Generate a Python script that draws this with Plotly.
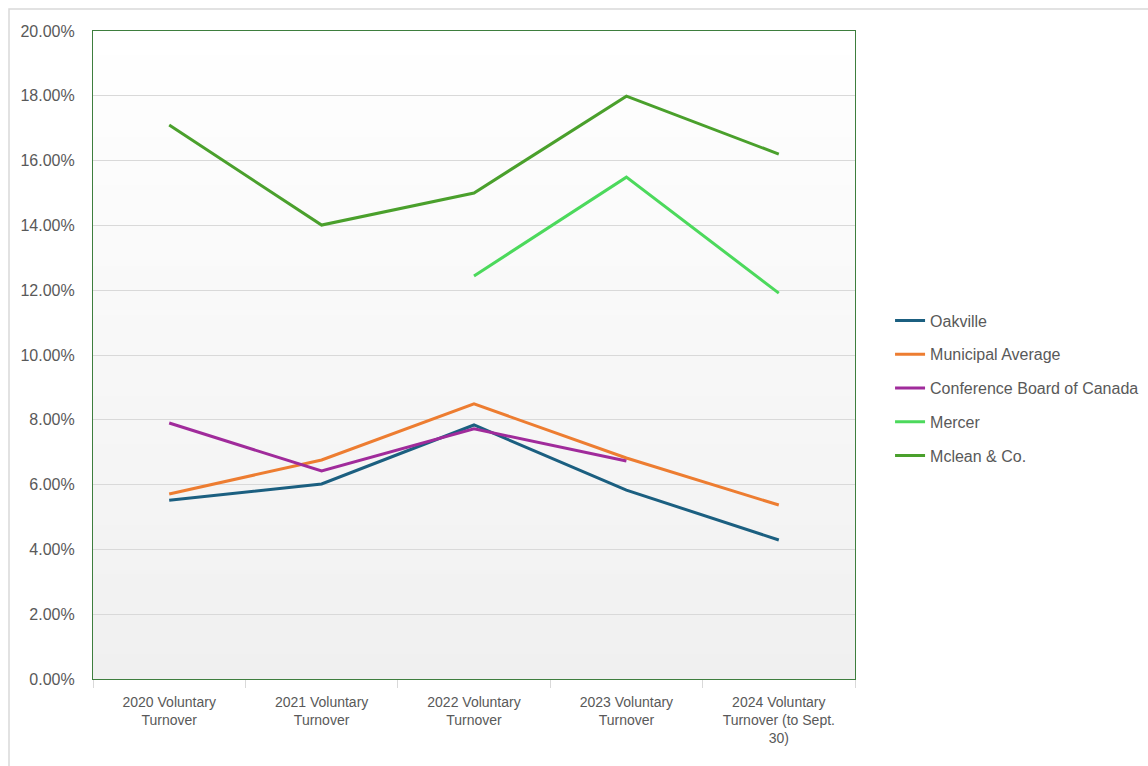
import plotly.graph_objects as go

categories = ["2020 Voluntary<br>Turnover", "2021 Voluntary<br>Turnover", "2022 Voluntary<br>Turnover",
              "2023 Voluntary<br>Turnover", "2024 Voluntary<br>Turnover (to Sept.<br>30)"]
oakville = [5.52, 6.02, 7.84, 5.83, 4.29]
municipal = [5.71, 6.76, 8.49, 6.82, 5.37]
conference = [7.90, 6.42, 7.72, 6.73, None]
mercer = [None, None, 12.44, 15.49, 11.91]
mclean = [17.10, 14.01, 15.00, 17.99, 16.20]
y_ticks = [0, 2, 4, 6, 8, 10, 12, 14, 16, 18, 20]
y_tick_labels = [f"{v:.2f}%" for v in y_ticks]

series = [
    ("Oakville", oakville, "#1b5f80"),
    ("Municipal Average", municipal, "#ed7d31"),
    ("Conference Board of Canada", conference, "#a02b9b"),
    ("Mercer", mercer, "#4cd95c"),
    ("Mclean & Co.", mclean, "#4aa02c"),
]

xs = list(range(len(categories)))
x_lo, x_hi = -0.5, len(categories) - 0.5
y_lo, y_hi = 0, 20

fig = go.Figure()
for name, vals, col in series:
    fig.add_trace(go.Scatter(x=xs, y=vals, name=name, mode="lines", legendgroup=name,
                             line=dict(color=col, width=3), connectgaps=False))

# vertical gradient background of the plot area (white top -> light grey bottom), below gridlines
shapes = []
n_steps = 80
top_c, bot_c = 255, 240
for i in range(n_steps):
    f0, f1 = i / n_steps, (i + 1) / n_steps
    g = round(bot_c + (top_c - bot_c) * (f0 + f1) / 2)
    shapes.append(dict(type="rect", xref="x domain", yref="y domain", x0=0, x1=1, y0=f0, y1=f1 + 0.002,
                       fillcolor=f"rgb({g},{g},{g})", line=dict(width=0), layer="below"))
# outer chart border
shapes.append(dict(type="rect", xref="paper", yref="paper",
                   x0=-84 / 762, x1=1.6, y0=-0.3, y1=1 + 22 / 648,
                   line=dict(color="#d9d9d9", width=1.5), layer="below"))

font_main = "Liberation Sans, Arial, sans-serif"

fig.update_layout(
    width=1148, height=766,
    margin=dict(l=93, r=293, t=31, b=87, autoexpand=False),
    paper_bgcolor="white", plot_bgcolor="rgba(0,0,0,0)",
    font=dict(family=font_main, size=16, color="#595959"),
    showlegend=True,
    legend=dict(x=0.046 + 1, y=(679 - 388) / 648, xanchor="left", yanchor="middle",
                font=dict(size=16, color="#595959"), tracegroupgap=10,
                itemwidth=30, bgcolor="rgba(0,0,0,0)"),
    shapes=shapes,
)
fig.update_xaxes(
    range=[x_lo, x_hi], tickmode="array", tickvals=xs, ticktext=categories,
    ticks="", showgrid=False, zeroline=False,
    showline=True, linecolor="#3e7e3e", linewidth=1.2, mirror=True,
    tickfont=dict(family=font_main, size=14, color="#595959"),
    ticklabelstandoff=10,
    minor=dict(tickmode="array", tickvals=[x_lo + i for i in range(len(categories) + 1)],
               ticks="outside", ticklen=8, tickcolor="#d9d9d9", tickwidth=1, showgrid=False),
)
fig.update_yaxes(
    range=[y_lo, y_hi], tickmode="array", tickvals=y_ticks, ticktext=y_tick_labels,
    ticks="", showgrid=True, gridcolor="#d9d9d9", gridwidth=1, zeroline=False,
    showline=True, linecolor="#3e7e3e", linewidth=1.2, mirror=True,
    ticklabelstandoff=14,
)

fig.write_html("out.html")
